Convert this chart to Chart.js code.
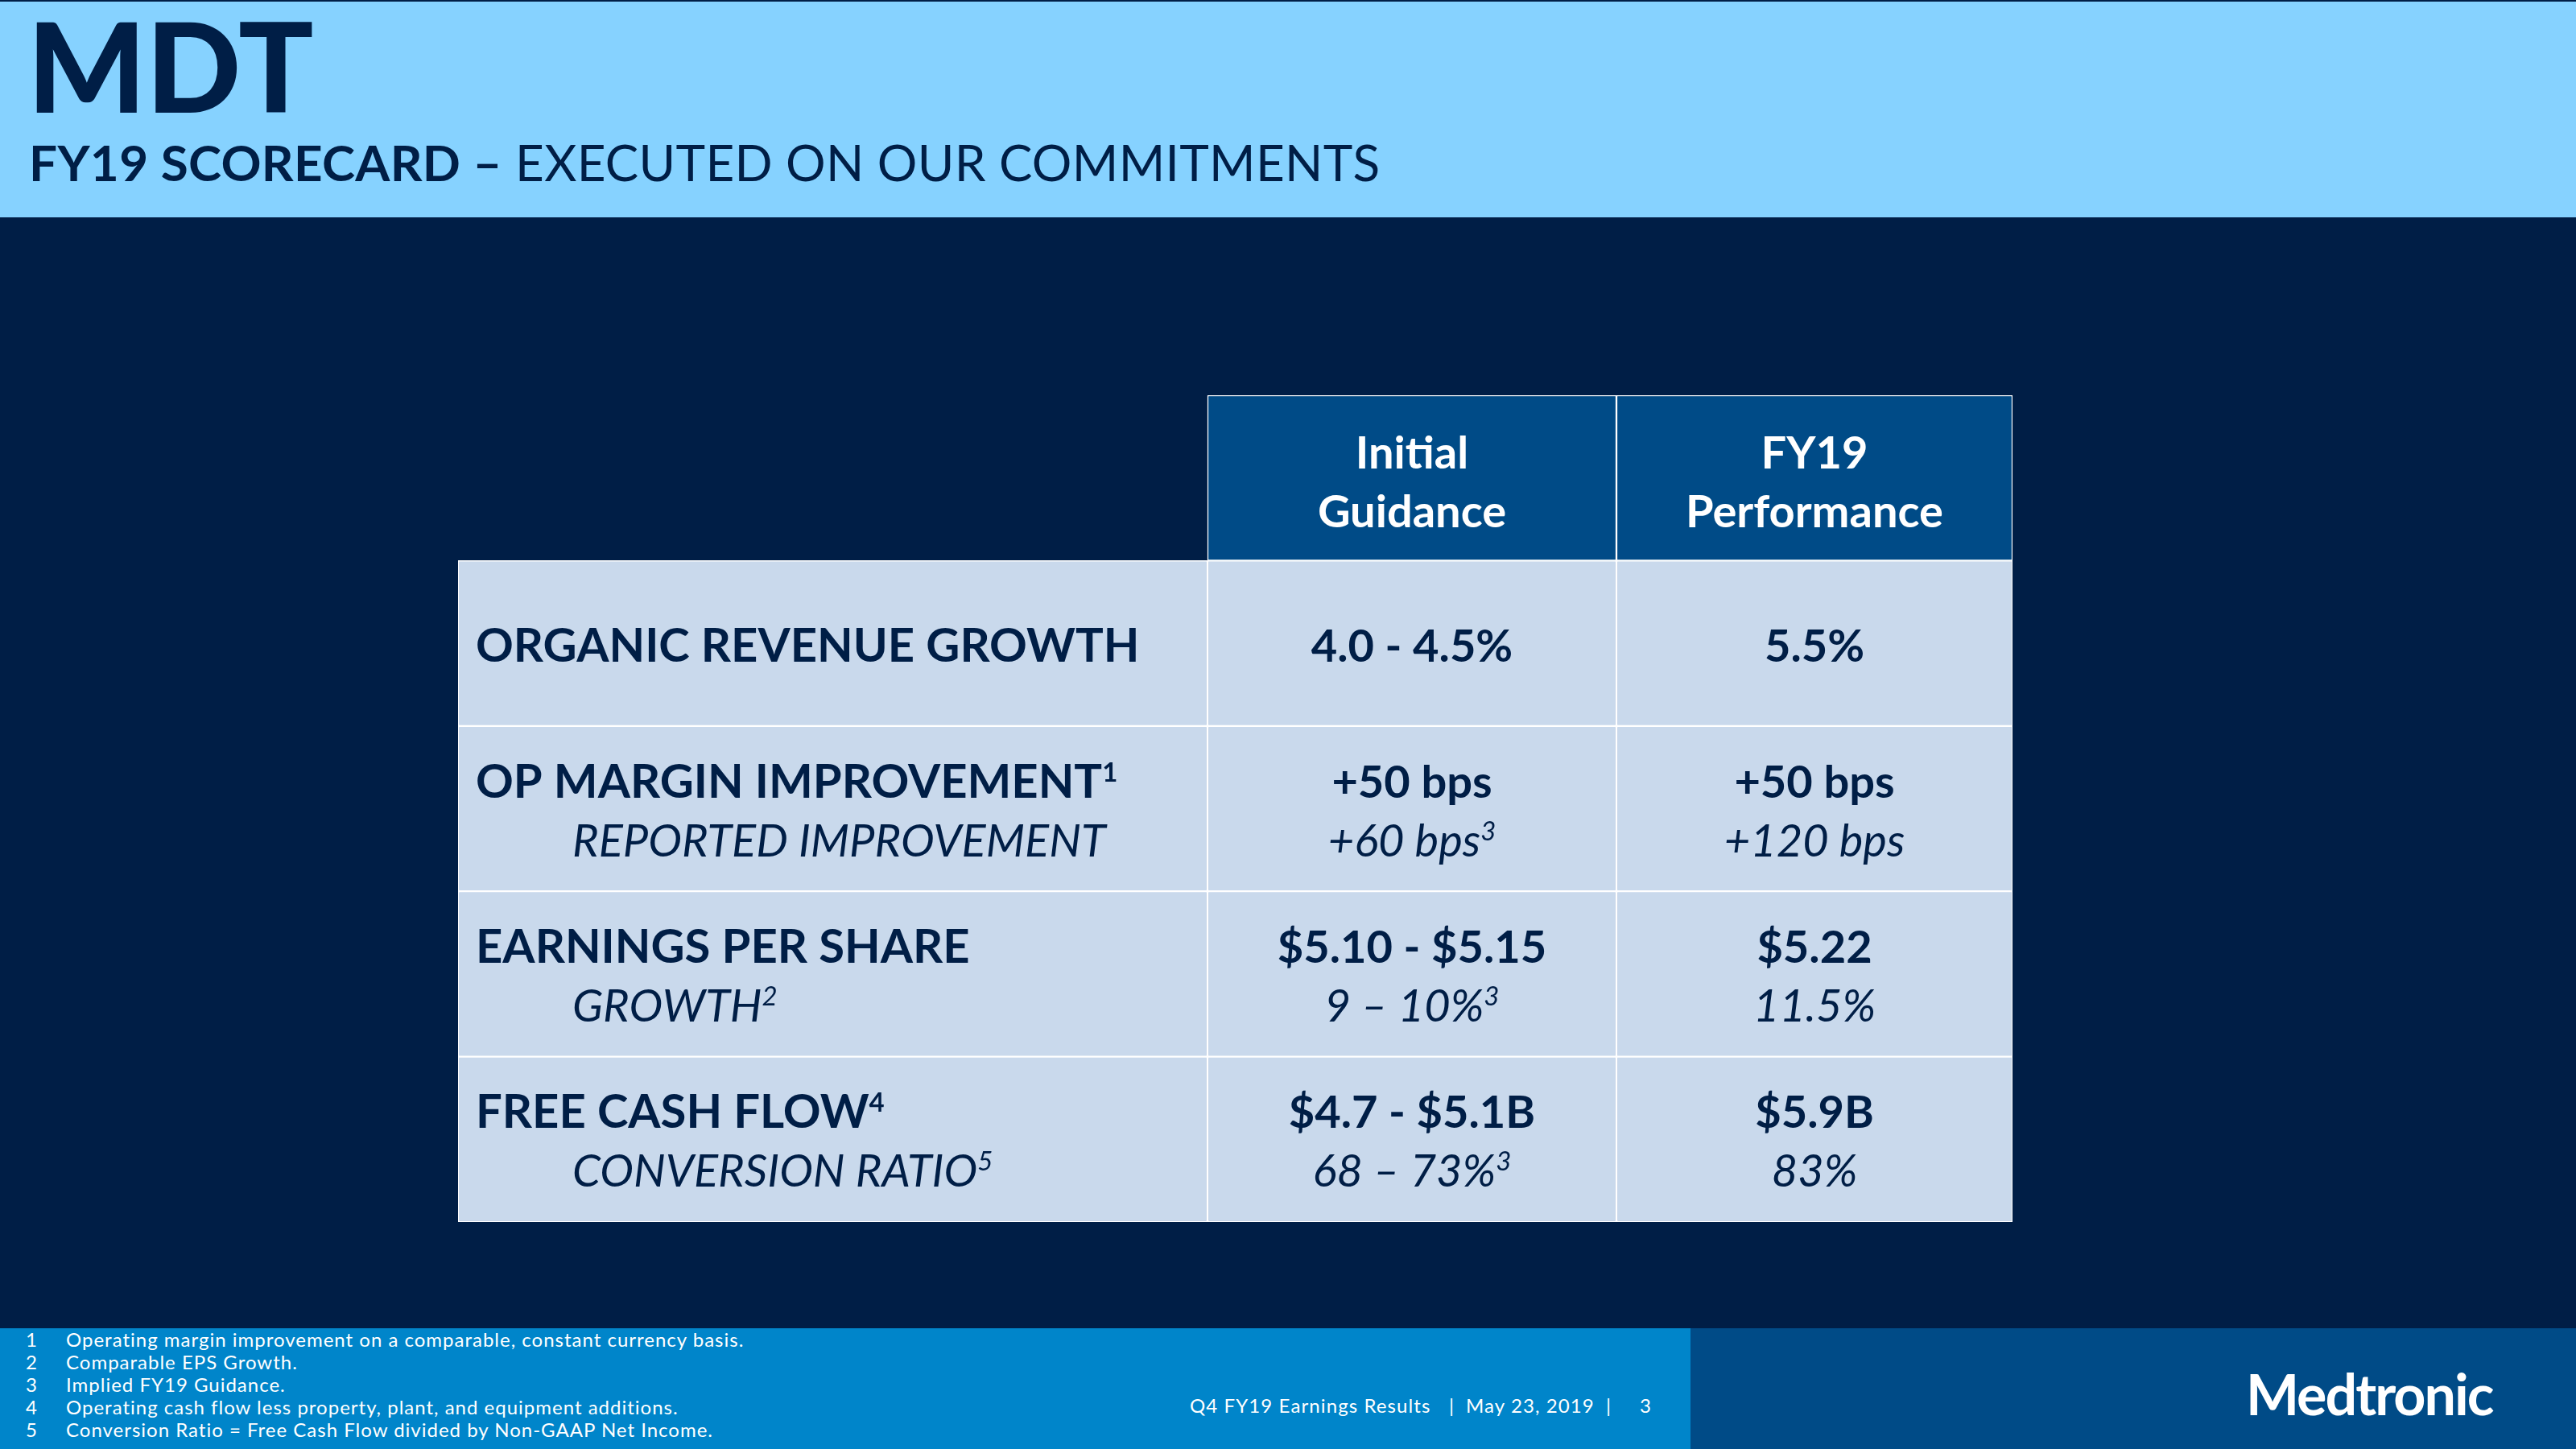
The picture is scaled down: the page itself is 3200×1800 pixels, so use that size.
<!DOCTYPE html>
<html>
<head>
<meta charset="utf-8">
<script src="https://cdn.jsdelivr.net/npm/chart.js@4.4.1/dist/chart.umd.min.js"></script>
<style>
  body { margin: 0; width: 3200px; height: 1800px; position: relative; overflow: hidden;
         background: #001E46; font-family: Lato, "Open Sans", sans-serif; }
  .abs { position: absolute; white-space: nowrap; }
  #band { left: 0; top: 0; width: 3200px; height: 268px; background: #86D2FF; border-top: 2px solid #001E46; }
  #ticker { left: 34px; top: 3px; font-size: 155px; line-height: 155px; font-weight: 900; color: #001E46; }
  #subtitle { left: 36px; top: 170px; font-size: 62px; line-height: 62px; color: #001E46; letter-spacing: 0.3px; }
  #subtitle b { font-weight: 700; }
  #footLeft { left: 0; top: 1650px; width: 2100px; height: 150px; background: #0085CA; }
  #footRight { left: 2100px; top: 1650px; width: 1100px; height: 150px; background: #004B87; }
  #notes { left: 32px; top: 1650px; color: #fff; font-size: 24px; line-height: 28px; letter-spacing: 1px; }
  #notes span { display: inline-block; width: 50px; }
  .meta { top: 1734px; color: #fff; font-size: 24px; line-height: 24px; letter-spacing: 1.1px; }
  #logo { left: 2790px; top: 1696px; color: #fff; font-size: 70px; line-height: 70px; font-weight: 700; letter-spacing: -2px; }
  #table { position: absolute; left: 0; top: 0; }
</style>
</head>
<body>
<div id="band" class="abs"></div>
<div id="ticker" class="abs">MDT</div>
<div id="subtitle" class="abs"><b>FY19 SCORECARD –</b> EXECUTED ON OUR COMMITMENTS</div>
<div id="footLeft" class="abs"></div>
<div id="footRight" class="abs"></div>
<div id="notes" class="abs"></div>
<div class="abs meta" style="left:1478px">Q4 FY19 Earnings Results</div>
<div class="abs meta" style="left:1800px">|</div>
<div class="abs meta" style="left:1821px">May 23, 2019</div>
<div class="abs meta" style="left:1995px">|</div>
<div class="abs meta" style="left:2037px">3</div>
<div id="logo" class="abs">Medtronic</div>
<canvas id="table" width="3200" height="1800"></canvas>

<script>
// Datos de la tabla
const columnHeaders = [['Initial', 'Guidance'], ['FY19', 'Performance']];
const metricNames = ['ORGANIC REVENUE GROWTH', 'OP MARGIN IMPROVEMENT', 'EARNINGS PER SHARE', 'FREE CASH FLOW'];
const metricNotes = ['', '1', '', '4'];
const subMetrics = ['', 'REPORTED IMPROVEMENT', 'GROWTH', 'CONVERSION RATIO'];
const subNotes = ['', '', '2', '5'];
const guidanceMain = ['4.0 - 4.5%', '+50 bps', '$5.10 - $5.15', '$4.7 - $5.1B'];
const guidanceSub = ['', '+60 bps', '9 – 10%', '68 – 73%'];
const guidanceNotes = ['', '3', '3', '3'];
const fy19Main = ['5.5%', '+50 bps', '$5.22', '$5.9B'];
const fy19Sub = ['', '+120 bps', '11.5%', '83%'];
const footnotes = [
  'Operating margin improvement on a comparable, constant currency basis.',
  'Comparable EPS Growth.',
  'Implied FY19 Guidance.',
  'Operating cash flow less property, plant, and equipment additions.',
  'Conversion Ratio = Free Cash Flow divided by Non-GAAP Net Income.'
];

// notas al pie
document.getElementById('notes').innerHTML =
  footnotes.map((t, i) => '<div><span>' + (i + 1) + '</span>' + t + '</div>').join('');

// anchos de columna (unidades del eje x)
const colWidths = [931, 508, 492];
const NAVY = '#001E46';
const HEAD_BLUE = '#004B87';
const CELL_BLUE = '#C9D9EC';

const rowLabels = ['header'].concat(metricNames);
const colStart = colWidths.map((w, i) => colWidths.slice(0, i).reduce((a, b) => a + b, 0));

const datasets = colWidths.map((w, c) => ({
  label: 'col' + c,
  data: rowLabels.map((r, i) => (i === 0 && c === 0) ? null : [colStart[c], colStart[c] + w]),
  backgroundColor: rowLabels.map((r, i) => i === 0 ? HEAD_BLUE : CELL_BLUE),
  borderColor: '#ffffff',
  borderWidth: 1.5,
  borderSkipped: false,
  grouped: false,
  barPercentage: 1,
  categoryPercentage: 1
}));

const F_LABEL = '700 58px Lato';
const F_VAL = '700 56px Lato';
const F_IT = 'italic 400 56px Lato';
const F_SUP_B = '700 33px Lato';
const F_SUP_I = 'italic 400 33px Lato';

function drawParts(ctx, parts, x, y, align) {
  let w = 0;
  parts.forEach(p => { ctx.font = p.font; p.w = ctx.measureText(p.text).width; w += p.w; });
  let cx = align === 'center' ? x - w / 2 : x;
  parts.forEach(p => {
    ctx.font = p.font;
    ctx.fillText(p.text, cx, y - (p.rise || 0));
    cx += p.w;
  });
}

function withNote(text, font, note, supFont) {
  const parts = [{ text: text, font: font }];
  if (note) parts.push({ text: note, font: supFont, rise: 20 });
  return parts;
}

// Dibuja los textos dentro de cada celda
const cellText = {
  id: 'cellText',
  afterDatasetsDraw(chart) {
    const ctx = chart.ctx;
    ctx.save();
    ctx.textBaseline = 'alphabetic';
    ctx.textAlign = 'left';
    chart.data.datasets.forEach((ds, c) => {
      const meta = chart.getDatasetMeta(c);
      ds.data.forEach((v, i) => {
        if (v == null) return;
        const p = meta.data[i].getProps(['x', 'y', 'base'], true);
        const left = Math.min(p.x, p.base);
        const mid = (p.x + p.base) / 2;
        const cy = p.y;
        if (i === 0) {
          ctx.fillStyle = '#ffffff';
          const h = columnHeaders[c - 1];
          drawParts(ctx, [{ text: h[0], font: '700 56px Lato' }], mid, cy - 12, 'center');
          drawParts(ctx, [{ text: h[1], font: '700 56px Lato' }], mid, cy + 61, 'center');
          return;
        }
        const r = i - 1;
        ctx.fillStyle = NAVY;
        let main, sub;
        if (c === 0) {
          main = withNote(metricNames[r], F_LABEL, metricNotes[r], F_SUP_B);
          sub = subMetrics[r] ? withNote(subMetrics[r], F_IT, subNotes[r], F_SUP_I) : null;
          if (sub) {
            drawParts(ctx, main, left + 22, cy - 14, 'left');
            drawParts(ctx, sub, left + 142, cy + 59, 'left');
          } else {
            drawParts(ctx, main, left + 22, cy + 23, 'left');
          }
          return;
        }
        if (c === 1) {
          main = withNote(guidanceMain[r], F_VAL, '', F_SUP_B);
          sub = guidanceSub[r] ? withNote(guidanceSub[r], F_IT, guidanceNotes[r], F_SUP_I) : null;
        } else {
          main = withNote(fy19Main[r], F_VAL, '', F_SUP_B);
          sub = fy19Sub[r] ? withNote(fy19Sub[r], F_IT, '', F_SUP_I) : null;
        }
        if (sub) {
          drawParts(ctx, main, mid, cy - 14, 'center');
          drawParts(ctx, sub, mid, cy + 59, 'center');
        } else {
          drawParts(ctx, main, mid, cy + 23, 'center');
        }
      });
    });
    ctx.restore();
  }
};

const ctx = document.getElementById('table').getContext('2d');

const scorecard = new Chart(ctx, {
  type: 'bar',
  data: { labels: rowLabels, datasets: datasets },
  options: {
    indexAxis: 'y',
    responsive: false,
    animation: false,
    devicePixelRatio: 1,
    layout: { padding: { left: 569, right: 700, top: 491, bottom: 282 } },
    scales: {
      x: { type: 'linear', min: 0, max: colWidths.reduce((a, b) => a + b, 0), display: false },
      y: { type: 'category', offset: true, display: false }
    },
    plugins: {
      legend: { display: false },
      tooltip: { enabled: false }
    }
  },
  plugins: [cellText]
});
</script>
</body>
</html>
